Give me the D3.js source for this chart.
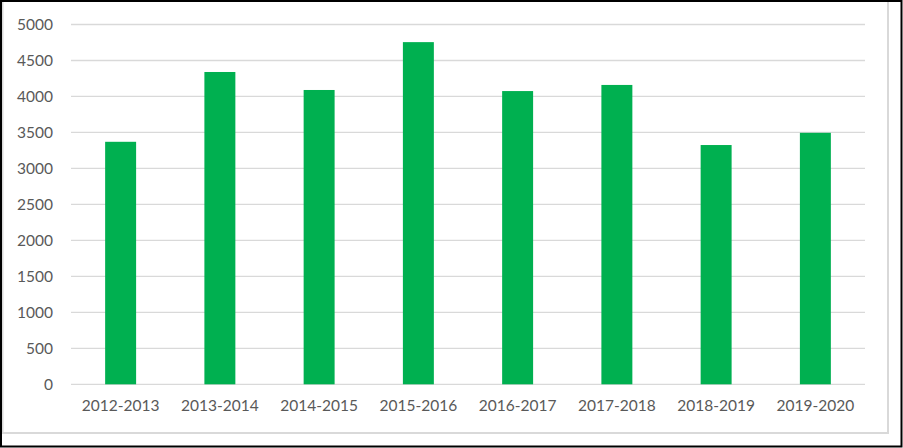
<!DOCTYPE html>
<html><head><meta charset="utf-8">
<script src="https://cdn.jsdelivr.net/npm/d3@7"></script>
<style>html,body{margin:0;padding:0;background:#fff;}svg{display:block;}</style>
</head><body>
<script>
const categories = ["2012-2013","2013-2014","2014-2015","2015-2016","2016-2017","2017-2018","2018-2019","2019-2020"];
const values = [3370, 4340, 4090, 4755, 4075, 4160, 3325, 3495];
const yTicks = [0,500,1000,1500,2000,2500,3000,3500,4000,4500,5000];

const W = 903, H = 448;
const svg = d3.select("body").append("svg").attr("width", W).attr("height", H);
svg.append("rect").attr("width", W).attr("height", H).attr("fill", "#fff");
// chart area border (grey)
svg.append("rect").attr("x", 2.5).attr("y", -2).attr("width", 885.5).attr("height", 435)
  .attr("fill", "none").attr("stroke", "#d9d9d9").attr("stroke-width", 2);
// outer black frame
svg.append("rect").attr("x", 1).attr("y", 1).attr("width", 900.5).attr("height", 445.5)
  .attr("fill", "none").attr("stroke", "#000").attr("stroke-width", 2);

const mLeft = 71, mRight = 865, mTop = 24.5, mBottom = 384.3;
const x = d3.scaleBand().domain(categories).range([mLeft, mRight]).paddingInner(0.688).paddingOuter(0.344);
const y = d3.scaleLinear().domain([0, 5000]).range([mBottom, mTop]);

const grid = svg.append("g");
grid.selectAll("line").data(yTicks).join("line")
  .attr("x1", mLeft).attr("x2", mRight)
  .attr("y1", d => y(d)).attr("y2", d => y(d))
  .attr("stroke", "#d9d9d9").attr("stroke-width", 1.3);

svg.append("g").selectAll("rect").data(values).join("rect")
  .attr("x", (d, i) => x(categories[i]))
  .attr("width", x.bandwidth())
  .attr("y", d => y(d))
  .attr("height", d => y(0) - y(d))
  .attr("fill", "#00b050");

const yAxis = d3.axisLeft(y).tickValues(yTicks).tickSize(0).tickPadding(0).tickFormat(d3.format("d"));
const ya = svg.append("g").attr("transform", `translate(53,0)`).call(yAxis);
ya.select(".domain").remove();
ya.selectAll("text").attr("font-family", "Lato, 'Open Sans', sans-serif").attr("font-size", "15.5px").attr("fill", "#595959");

const xAxis = d3.axisBottom(x).tickSize(0).tickPadding(0);
const xa = svg.append("g").attr("transform", `translate(0,${mBottom + 16})`).call(xAxis);
xa.select(".domain").remove();
xa.selectAll("text").attr("font-family", "Lato, 'Open Sans', sans-serif").attr("font-size", "15.5px").attr("fill", "#595959");
</script>
</body></html>
